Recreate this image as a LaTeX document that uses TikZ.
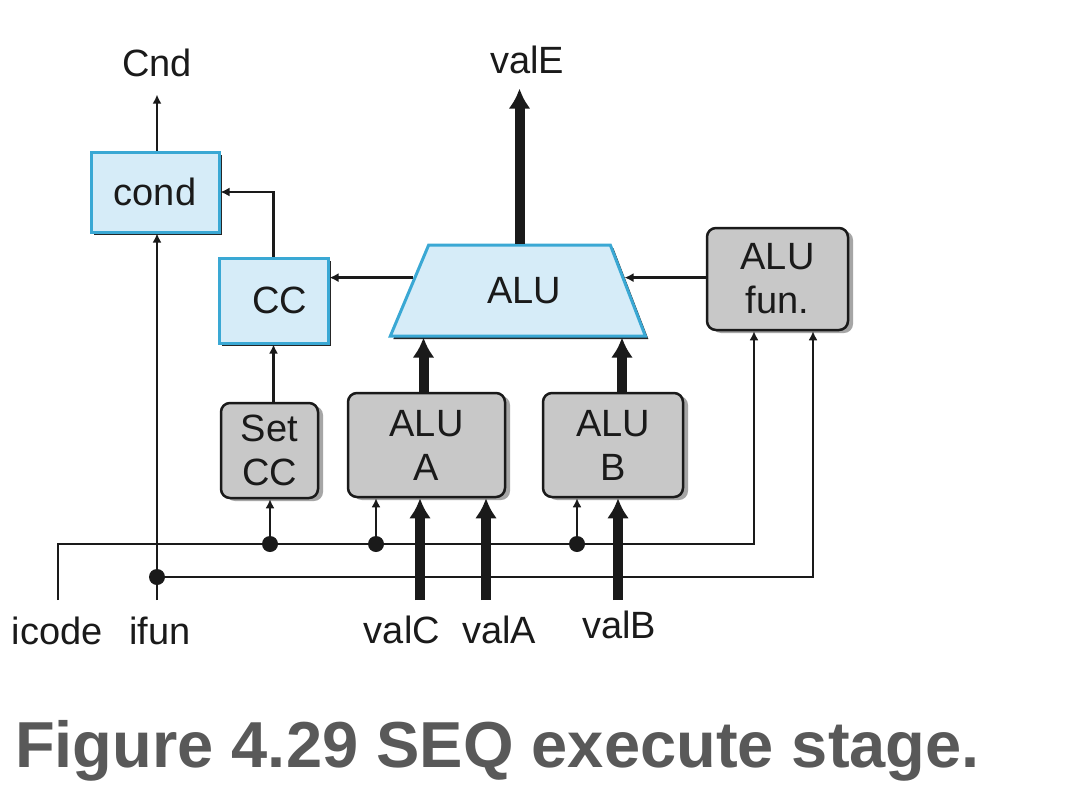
\documentclass[tikz,border=0pt]{standalone}
\usepackage{fontspec}
\setmainfont{Liberation Sans}
\usetikzlibrary{arrows.meta,shapes.geometric,shadows,calc}
\definecolor{boxblue}{HTML}{D6ECF8}
\definecolor{edgeblue}{HTML}{3AA8D4}
\definecolor{boxgray}{HTML}{C8C8C8}
\definecolor{capgray}{HTML}{595959}
\definecolor{ink}{HTML}{1A1A1A}
\begin{document}
\begin{tikzpicture}[x=1pt,y=-1pt,
  lbl/.style={font=\fontsize{38}{44}\selectfont, text=ink, inner sep=0pt},
  bluebox/.style={draw=edgeblue, line width=3pt, fill=boxblue,
    drop shadow={shadow xshift=3pt,shadow yshift=-3pt,fill=black!85,opacity=1},
    inner sep=0pt, font=\fontsize{38}{44}\selectfont, text=ink},
  graybox/.style={draw=ink, line width=2.5pt, fill=boxgray, rounded corners=9pt,
    drop shadow={shadow xshift=5pt,shadow yshift=-3pt,fill=black!35,opacity=1},
    align=center, inner sep=0pt, font=\fontsize{38}{44}\selectfont, text=ink},
  wire/.style={line width=2.8pt, draw=ink},
  warrow/.style={wire, -{Latex[length=9pt,width=9pt]}},
  bus/.style={line width=10pt, draw=ink, -{Latex[length=20pt,width=22pt]}},
  dot/.style={circle, fill=ink, inner sep=0pt, minimum size=16pt},
]
\fill[white] (0,0) rectangle (1078,792);
\useasboundingbox (0,0) rectangle (1078,792);

% blue boxes
\node[bluebox, minimum width=128pt, minimum height=80pt] (cond) at (155,192) {cond};
\node[bluebox, minimum width=109pt, minimum height=85pt] (cc) at (273.5,300.5) {\hspace*{13pt}CC};
\node[trapezium, trapezium stretches=true, trapezium left angle=56.6, trapezium right angle=58.9,
  minimum width=255pt, minimum height=91pt, bluebox] (alu) at (519.5,290.5) {\hspace*{9pt}ALU};

% gray boxes
\node[graybox, minimum width=141pt, minimum height=102pt] (alufun) at (777.5,279) {ALU\\fun.};
\node[graybox, minimum width=97pt, minimum height=95pt] (setcc) at (269.5,450.5) {Set\\CC};
\node[graybox, minimum width=157pt, minimum height=104pt] (alua) at (426.5,445) {ALU\\A};
\node[graybox, minimum width=140pt, minimum height=104pt] (alub) at (613,445) {ALU\\B};

% labels
\node[lbl, anchor=base] (cnd) at (157,77) {Cnd};
\node[lbl, anchor=base] (vale) at (527,74) {valE};
\node[lbl, anchor=base] (icode) at (57,644) {icode};
\node[lbl, anchor=base] (ifun) at (160,644) {ifun};
\node[lbl, anchor=base] (valc) at (402,643) {valC};
\node[lbl, anchor=base] (vala) at (499,643) {valA};
\node[lbl, anchor=base] (valb) at (619,638) {valB};

% coordinates
\coordinate (aluTop) at ($(alu.top left corner)!0.5!(alu.top right corner)$);
\coordinate (aluL) at ($(alu.top left corner)!0.363!(alu.bottom left corner)$);
\coordinate (aluR) at ($(alu.top right corner)!0.363!(alu.bottom right corner)$);
\coordinate (icodeS) at (58,600);
\coordinate (ifunS) at (157,600);
\coordinate (valCs) at (420,600);
\coordinate (valAs) at (486,600);
\coordinate (valBs) at (618,600);

% top connectors
\draw[warrow, shorten >=17pt] (ifunS |- cond.north) -- (ifunS |- cnd.south);
\draw[bus, shorten >=14pt] (aluTop) -- (aluTop |- vale.south);
\draw[warrow] (cc.north) |- (cond.east);
\draw[warrow] (aluL) -- (aluL -| cc.east);
\draw[warrow] (aluR -| alufun.west) -- (aluR);
\draw[warrow] (cc.south |- setcc.north) -- (cc.south);
\draw[bus] ([xshift=-3pt]alua.north) -- ([xshift=-3pt]alua.north |- alu.south);
\draw[bus] ([xshift=9pt]alub.north) -- ([xshift=9pt]alub.north |- alu.south);

% bottom wires
\draw[warrow] (icodeS) -- ++(0,-56) -| ([xshift=-23.5pt]alufun.south);
\node[dot] (d1) at (270,544) {};
\node[dot] (d2) at (376,544) {};
\node[dot] (d3) at (577,544) {};
\draw[warrow] (d1) -- (d1 |- setcc.south);
\draw[warrow] (d2) -- (d2 |- alua.south);
\draw[warrow] (d3) -- (d3 |- alub.south);
\draw[warrow] (ifunS) -- (ifunS |- cond.south);
\node[dot] (d0) at (157,577) {};
\draw[warrow] (d0) -| ([xshift=35.5pt]alufun.south);

% buses
\draw[bus] (valCs) -- (valCs |- alua.south);
\draw[bus] (valAs) -- (valAs |- alua.south);
\draw[bus] (valBs) -- (valBs |- alub.south);

% caption
\node[anchor=base west, font=\fontsize{65}{70}\selectfont\bfseries, text=capgray, inner sep=0pt] (cap) at (15,767) {Figure 4.29 SEQ execute stage.};
\end{tikzpicture}
\end{document}
